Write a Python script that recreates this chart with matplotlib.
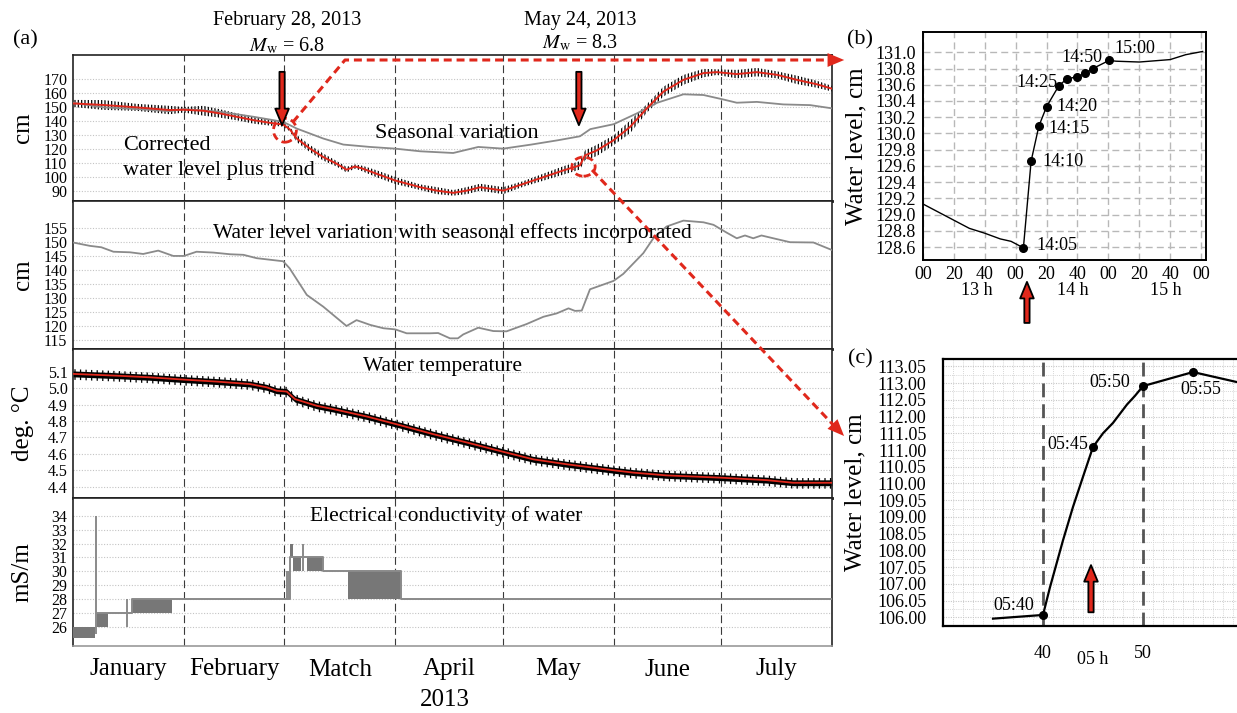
import numpy as np
import matplotlib.pyplot as plt
from matplotlib.patches import Ellipse, FancyArrowPatch
from matplotlib.lines import Line2D
import matplotlib.transforms as mtransforms

plt.rcParams['font.family'] = ['Liberation Serif', 'DejaVu Serif']
plt.rcParams['mathtext.fontset'] = 'stix'
plt.rcParams['hatch.linewidth'] = 0.9

W, H = 1237, 713
RED = '#e0281c'
GRAY = '#8a8a8a'

# ---------------- panel (a): x = days since 1 Jan 2013 ----------------
months = ['January', 'February', 'Match', 'April', 'May', 'June', 'July']
month_starts = [0, 31, 59, 90, 120, 151, 181, 212]

# corrected water level plus trend (smoothed, red) and tidal half-range (black)
wl_days = [0, 8.5, 17.8, 27, 31, 36.4, 41, 45.7, 50.4, 55, 58.7, 60.5, 62.5, 66.2,
           69.9, 73.6, 76.4, 78.8, 81, 84.8, 90, 97, 101.6, 106.2, 110, 113.7, 120.2,
           125.8, 131.4, 137, 141.6, 143, 146.3, 151, 155.6, 160.3, 164.9, 170.5,
           176.1, 179.8, 185.4, 191, 196.6, 202.2, 207.7, 212]
wl_trend = [152.5, 151.4, 149.7, 147.8, 148, 147.3, 145.4, 143, 140.6, 138.7, 137.5,
            134.2, 127.5, 120.3, 114.3, 109.6, 105.3, 107.6, 106, 102.4, 97.6, 92.8,
            90.4, 88.8, 90.4, 92.8, 90.4, 95.2, 100, 104.8, 108.4, 115.5, 119, 126.3,
            135.8, 149, 160.9, 169.3, 174.1, 174.8, 173.4, 174.8, 172.9, 169.3, 166.2, 163]
wl_tide_amp = [2.5, 3.5, 2.5, 3, 2, 3.5, 3, 2.5, 2.5, 2, 1.5, 1.5, 2.5, 2.5, 2.5, 2, 2,
               1.5, 2, 2.5, 2.5, 2, 2.5, 2, 2.5, 2.5, 2.5, 2, 2.5, 3, 3, 3.5, 4, 3.5,
               4.5, 3, 3.5, 3.5, 3, 2, 3, 3, 2.5, 3, 2.5, 2]

# seasonal variation (gray, top panel)
seas_days = [0, 8.5, 17.8, 27, 31, 41, 50.4, 58.7, 62.5, 69.9, 75.5, 83, 90, 97, 106.2,
             113.2, 120.2, 128, 135.5, 141.6, 144.5, 151, 157.5, 163.2, 170.5, 176.1,
             181.5, 185.4, 191, 198.4, 205.9, 212]
seas_vals = [153, 149.7, 148.5, 147, 148.5, 146.6, 143, 139.4, 134.6, 127.5, 123.2,
             121.5, 120.3, 118.4, 117.2, 121.5, 120.3, 123.2, 126.3, 129.1, 134.2, 137.7,
             145.4, 153, 159, 158.5, 155.4, 153, 153.6, 151.8, 151.3, 149]

# water level variation with seasonal effects incorporated
var_days = [0, 4.7, 7.9, 11.3, 15.9, 19.6, 23.8, 28, 31, 34.5, 39.2, 43.9, 47.6, 51.3,
            58.7, 60.5, 65.3, 69.9, 76.4, 79.2, 83, 86.7, 90, 93.2, 99.7, 102, 105.3,
            107.5, 109, 113.2, 117.4, 121.1, 126.7, 131.4, 135.1, 138.4, 140.2, 142.1,
            144.4, 151, 153.7, 159.3, 162.1, 165.8, 170.5, 176.1, 178.9, 182.6, 185.4,
            187.7, 190, 192.3, 196.6, 200.3, 206.8, 212]
var_vals = [149.8, 148.6, 148.1, 146.5, 146.3, 145.7, 146.9, 145, 145, 146.5, 146.2,
            145.6, 145.4, 144.2, 143.1, 140.6, 131.1, 126.9, 120, 122.1, 120.4, 119.2,
            118.8, 117.4, 117.4, 117.5, 115.6, 115.6, 117, 119.4, 118.2, 118.1, 120.7,
            123.3, 124.5, 126.3, 125.4, 125.5, 133.1, 136.1, 138.6, 146, 151.3, 155.5,
            157.6, 157, 156.1, 153.3, 151.3, 152.3, 151.3, 152.3, 151, 149.9, 149.8, 147.1]

# water temperature
temp_days = [0, 12.2, 21.5, 31, 40.1, 49.4, 54.1, 56.9, 59.7, 62, 68.1, 72.7, 82, 91.3,
             100.6, 110, 120, 128.6, 137.9, 151.1, 156.5, 165.8, 181.1, 193.8, 201.2, 212]
temp_vals = [5.088, 5.077, 5.067, 5.053, 5.041, 5.026, 5.006, 4.985, 4.98, 4.934, 4.893,
             4.873, 4.828, 4.775, 4.72, 4.669, 4.613, 4.566, 4.536, 4.499, 4.485, 4.468,
             4.454, 4.439, 4.423, 4.423]
temp_spread = 0.018

# electrical conductivity: base line, oscillating blocks and spikes
cond_days = [6.6, 16.4, 16.4, 60.6, 60.6, 69.7, 69.7, 91.6, 91.6, 212]
cond_vals = [27, 27, 28, 28, 31, 31, 30, 30, 28, 28]
block_start = [0, 6.6, 16.4, 60.6, 61.5, 65.3, 76.9]
block_end = [6.1, 9.9, 27.6, 61.5, 63.8, 69.7, 91.6]
block_lo = [25.2, 26, 27, 31, 30, 30, 28]
block_hi = [26, 27, 28, 32, 31, 31, 30]
spike_days = [6.4, 15, 59.9, 60.3, 64.2]
spike_lo = [25.5, 26, 28, 28, 30]
spike_hi = [34, 28, 30, 30, 32]

# ---------------- panel (b): minutes after 13:00, 28 Feb ----------------
b_pre_min = [0, 10, 20, 30, 40, 50, 57]
b_pre_val = [129.13, 129.03, 128.93, 128.83, 128.77, 128.70, 128.67]
b_pt_min = [65, 70, 75, 80, 88, 93, 100, 105, 110, 120.5]
b_pt_val = [128.59, 129.66, 130.09, 130.33, 130.59, 130.67, 130.70, 130.74, 130.80, 130.90]
b_post_min = [125, 140, 160, 170, 181]
b_post_val = [130.89, 130.88, 130.91, 130.97, 131.01]
b_xticklabels = ['00', '20', '40', '00', '20', '40', '00', '20', '40', '00']

# ---------------- panel (c): minutes after 05:00, 24 May ----------------
c_min = [35, 40, 40.7, 42, 43, 44, 45, 46, 47, 48.4, 49.2, 50, 55, 59.4]
c_val = [105.96, 106.07, 106.9, 108.3, 109.3, 110.2, 111.09, 111.5, 111.81, 112.36,
         112.62, 112.91, 113.33, 113.03]
c_pt_min = [40, 45, 50, 55]
c_pt_val = [106.07, 111.09, 112.91, 113.33]
c_pt_labels = ['05:40', '05:45', '05:50', '05:55']
c_yticks = [106.0, 106.5, 107.0, 107.5, 108.0, 108.5, 109.0, 109.5, 110.0, 110.5,
            111.0, 111.5, 112.0, 112.5, 113.0, 113.5]
c_yticklabels = ['106.00', '106.05', '107.00', '107.05', '108.00', '108.05', '109.00',
                 '109.05', '110.00', '110.05', '111.00', '111.05', '112.00', '112.05',
                 '113.00', '113.05']


def fx(px):
    return px / W


def fy(py):
    return 1 - py / H


fig = plt.figure(figsize=(W / 100, H / 100), dpi=100)


def add_ax(left, top, right, bottom):
    return fig.add_axes([left / W, 1 - bottom / H, (right - left) / W, (bottom - top) / H])


def quake_arrow(ax, x, y_tail, y_tip, coords='data'):
    ax.annotate('', xy=(x, y_tip), xytext=(x, y_tail), xycoords=coords, textcoords=coords,
                arrowprops=dict(arrowstyle='simple,head_width=0.7,head_length=0.85,tail_width=0.27',
                                fc=RED, ec='black', lw=1.3, mutation_scale=14,
                                shrinkA=0, shrinkB=0),
                annotation_clip=False, zorder=6)


a1 = add_ax(73, 55, 832, 201)
a2 = add_ax(73, 201, 832, 349)
a3 = add_ax(73, 349, 832, 498)
a4 = add_ax(73, 498, 832, 646)

setup = [
    (a1, np.arange(90, 171, 10), (83, 187), 'cm', '%d'),
    (a2, np.arange(115, 156, 5), (111.8, 164.6), 'cm', '%d'),
    (a3, np.arange(4.4, 5.15, 0.1), (4.33, 5.24), 'deg. °C', '%.1f'),
    (a4, np.arange(26, 35, 1), (24.6, 35.3), 'mS/m', '%d'),
]
for ax, ticks, lim, lab, fmt in setup:
    ax.set_xlim(0, 212)
    ax.set_ylim(lim)
    ax.set_yticks(ticks)
    ax.set_yticklabels([fmt % t for t in ticks])
    ax.yaxis.grid(True, color='#c4c4c4', linestyle=(0, (1, 1.5)), linewidth=0.8)
    ax.set_axisbelow(True)
    for d in month_starts[1:-1]:
        ax.axvline(d, color='#3a3a3a', lw=0.8, ls=(0, (7, 3.5)), zorder=1)
    ax.tick_params(axis='both', length=0, labelsize=11.5, pad=4)
    ax.set_ylabel(lab, fontsize=18)
    ax.yaxis.set_label_coords(-0.052, 0.5)
    ax.set_xticks([])
    for s in ['left', 'right', 'top']:
        ax.spines[s].set_linewidth(1.2)
        ax.spines[s].set_color('#222222')
    ax.spines['bottom'].set_linewidth(2)
    ax.spines['bottom'].set_color('#111111')
a4.spines['bottom'].set_color('#999999')
a4.spines['bottom'].set_linewidth(1.2)

month_mid = [(s + e) / 2 for s, e in zip(month_starts[:-1], month_starts[1:])]
a4.set_xticks(month_mid)
a4.set_xticklabels(months, fontsize=18)
a4.tick_params(axis='x', pad=9)
fig.text(fx(445), fy(700), '2013', ha='center', va='center', fontsize=18)

# top panel
trend = np.array(wl_trend)
amp = np.array(wl_tide_amp)
a1.fill_between(wl_days, trend - amp, trend + amp, facecolor='none', edgecolor='black',
                hatch='|||||', linewidth=0, zorder=2)
a1.plot(seas_days, seas_vals, color=GRAY, lw=1.3, zorder=3)
a1.plot(wl_days, wl_trend, color=RED, lw=1.4, zorder=4)
fig.text(fx(123), fy(146), 'Corrected', fontsize=16, va='center')
fig.text(fx(123), fy(171), 'water level plus trend', fontsize=16, va='center')
fig.text(fx(375), fy(133), 'Seasonal variation', fontsize=16, va='center')

quake_arrow(a1, 58.4, 175, 137)
quake_arrow(a1, 141.3, 175, 137)
a1.add_patch(Ellipse((59.2, 133.4), 6.4, 17, fill=False, ec=RED, lw=2,
                     ls=(0, (2.6, 1.6)), zorder=5, clip_on=False))
a1.add_patch(Ellipse((142.6, 107.5), 6.5, 13.6, fill=False, ec=RED, lw=2,
                     ls=(0, (2.6, 1.6)), zorder=5, clip_on=False))

# second panel
a2.plot(var_days, var_vals, color=GRAY, lw=1.3, zorder=3)
fig.text(fx(213), fy(233), 'Water level variation with seasonal effects incorporated',
         fontsize=15.5, va='center')

# temperature
tv = np.array(temp_vals)
a3.fill_between(temp_days, tv - temp_spread, tv + temp_spread, color='black', lw=0, zorder=2)
a3.fill_between(temp_days, tv - 2 * temp_spread, tv + 1.6 * temp_spread, facecolor='none',
                edgecolor='black', hatch='|||', linewidth=0, zorder=2)
a3.plot(temp_days, temp_vals, color=RED, lw=1.3, zorder=4)
fig.text(fx(363), fy(366), 'Water temperature', fontsize=15.5, va='center')

# conductivity
a4.bar(block_start, np.array(block_hi) - np.array(block_lo),
       width=np.array(block_end) - np.array(block_start), bottom=block_lo,
       align='edge', color='#777777', lw=0, zorder=3)
a4.plot(cond_days, cond_vals, color=GRAY, lw=1.4, zorder=3)
a4.vlines(spike_days, spike_lo, spike_hi, color=GRAY, lw=1.4, zorder=3)
fig.text(fx(310), fy(516), 'Electrical conductivity of water', fontsize=15.5, va='center')

# titles over panel (a)
fig.text(fx(287), fy(20), 'February 28, 2013', ha='center', va='center', fontsize=14.5)
fig.text(fx(287), fy(46), r'$M_{\mathrm{w}}$ = 6.8', ha='center', va='center', fontsize=14.5)
fig.text(fx(580), fy(20), 'May 24, 2013', ha='center', va='center', fontsize=14.5)
fig.text(fx(580), fy(43), r'$M_{\mathrm{w}}$ = 8.3', ha='center', va='center', fontsize=14.5)
fig.text(fx(25), fy(40), '(a)', ha='center', va='center', fontsize=16)
fig.text(fx(860), fy(40), '(b)', ha='center', va='center', fontsize=16)
fig.text(fx(860), fy(359), '(c)', ha='center', va='center', fontsize=16)

# ---------------- panel (b) ----------------
b = add_ax(923, 32, 1206, 260)
b.set_xlim(0, 183.2)
b.set_ylim(128.44, 131.25)
b_yt = np.arange(128.6, 131.01, 0.2)
b.set_yticks(b_yt)
b.set_yticklabels(['%.1f' % v for v in b_yt])
b.set_xticks(np.arange(0, 181, 20))
b.set_xticklabels(b_xticklabels)
b.grid(True, color='#b8b8b8', ls=(0, (5, 3)), lw=1)
b.set_axisbelow(True)
b.tick_params(axis='y', length=0, labelsize=13, pad=5)
b.tick_params(axis='x', length=0, labelsize=13, pad=4)
for s in b.spines.values():
    s.set_linewidth(1.4)
b.plot(b_pre_min + b_pt_min + b_post_min, b_pre_val + b_pt_val + b_post_val,
       color='black', lw=1)
b.plot(b_pt_min, b_pt_val, 'o', color='black', ms=5.5)
b.set_ylabel('Water level, cm', fontsize=18)
b.yaxis.set_label_coords(-0.198, 0.5)
hour_tr = mtransforms.blended_transform_factory(b.transData, b.transAxes)
for hx, ht in zip([35, 97, 157], ['13 h', '14 h', '15 h']):
    b.text(hx, -0.135, ht, transform=hour_tr, ha='center', va='center', fontsize=13)
b_labels = [(0, '14:05', 13, 2, 'left'), (1, '14:10', 11, 0, 'left'),
            (2, '14:15', 10, -2, 'left'), (3, '14:20', 10, 0, 'left'),
            (4, '14:25', -1, 3, 'right'), (8, '14:50', 9, 11, 'right'),
            (9, '15:00', 5, 12, 'left')]
for i, t, dx, dy, ha in b_labels:
    b.annotate(t, (b_pt_min[i], b_pt_val[i]), xytext=(dx, dy), textcoords='offset pixels',
               ha=ha, va='center', fontsize=13)
quake_arrow(b, 67.3, -0.276, -0.096, coords=('data', 'axes fraction'))

# ---------------- panel (c) ----------------
c = add_ax(943, 359, 1237, 626)
c.set_xlim(30, 59.4)
c.set_ylim(105.74, 113.72)
c.set_yticks(c_yticks)
c.set_yticklabels(c_yticklabels)
c.set_yticks(np.arange(105.75, 113.75, 0.25), minor=True)
c.set_xticks([40, 50])
c.set_xticks(np.arange(31, 60, 1), minor=True)
c.grid(True, which='minor', color='#d6d6d6', ls=(0, (1, 1.2)), lw=0.7)
c.grid(True, which='major', axis='y', color='#c8c8c8', ls=(0, (1, 1.2)), lw=0.8)
c.set_axisbelow(True)
c.tick_params(which='both', length=0)
c.tick_params(axis='y', labelsize=13, pad=12)
c.tick_params(axis='x', labelsize=13, pad=14)
for d in [40, 50]:
    c.axvline(d, color='#555555', lw=2, ls=(0, (5, 2.5)), zorder=2)
for s in ['left', 'top', 'bottom']:
    c.spines[s].set_linewidth(1.6)
c.spines['right'].set_visible(False)
c.plot(c_min, c_val, color='black', lw=1.6, zorder=3)
c.plot(c_pt_min, c_pt_val, 'o', color='black', ms=5.5, zorder=4)
c.set_ylabel('Water level, cm', fontsize=18)
c.yaxis.set_label_coords(-0.262, 0.5)
c_tr = mtransforms.blended_transform_factory(c.transData, c.transAxes)
c.text(45, -0.127, '05 h', transform=c_tr, ha='center', va='center', fontsize=13)
c_offsets = [(-9, 9, 'right'), (-5, 2, 'right'), (-13, 4, 'right'), (8, -17, 'center')]
for m, v, t, (dx, dy, ha) in zip(c_pt_min, c_pt_val, c_pt_labels, c_offsets):
    c.annotate(t, (m, v), xytext=(dx, dy), textcoords='offset pixels',
               ha=ha, va='center', fontsize=13)
quake_arrow(c, 44.8, 106.15, 107.56)

# ---------------- red dashed connectors ----------------
fig.add_artist(Line2D([fx(293), fx(345), fx(832)], [fy(122), fy(60), fy(60)],
                      transform=fig.transFigure, color=RED, lw=2.2, ls=(0, (2.6, 1.6))))
fig.add_artist(FancyArrowPatch((fx(829), fy(60)), (fx(847), fy(60)),
                               transform=fig.transFigure,
                               arrowstyle='-|>,head_width=0.5,head_length=1.2',
                               mutation_scale=10, color=RED, lw=0))
fig.add_artist(Line2D([fx(592), fx(834)], [fy(170), fy(425.7)],
                      transform=fig.transFigure, color=RED, lw=2.2, ls=(0, (2.6, 1.6))))
fig.add_artist(FancyArrowPatch((fx(832), fy(423.5)), (fx(846), fy(438)),
                               transform=fig.transFigure,
                               arrowstyle='-|>,head_width=0.5,head_length=1.2',
                               mutation_scale=10, color=RED, lw=0))

fig.savefig('out.png', dpi=100)
